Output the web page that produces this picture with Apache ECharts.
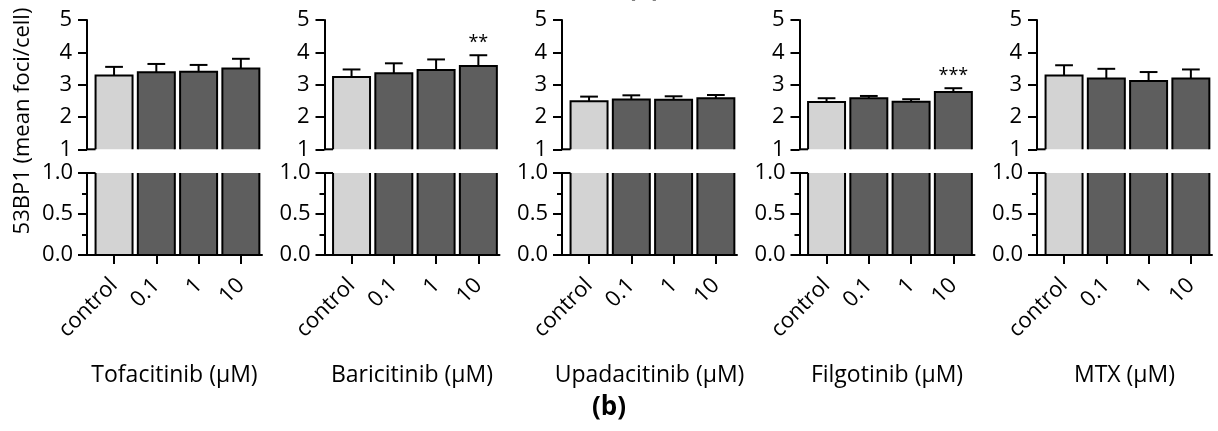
<!DOCTYPE html>
<html>
<head>
<meta charset="utf-8">
<script src="https://cdn.jsdelivr.net/npm/echarts@6/dist/echarts.min.js"></script>
<style>
html,body{margin:0;padding:0;background:#fff;}
#chart{width:1218px;height:431px;}
</style>
</head>
<body>
<div id="chart"></div>
<script>
// ---- data ----
const drugNames = ['Tofacitinib (μM)', 'Baricitinib (μM)', 'Upadacitinib (μM)', 'Filgotinib (μM)', 'MTX (μM)'];
const doseLabels = ['control', '0.1', '1', '10'];
const upperTicks = ['1', '2', '3', '4', '5'];
const lowerTicks = ['0.0', '0.5', '1.0'];
const yAxisTitle = '53BP1 (mean foci/cell)';

const tofacitinibMean = [3.28, 3.38, 3.40, 3.50];
const tofacitinibErr  = [0.27, 0.26, 0.21, 0.30];
const tofacitinibSig  = ['', '', '', ''];

const baricitinibMean = [3.24, 3.35, 3.45, 3.58];
const baricitinibErr  = [0.23, 0.31, 0.33, 0.33];
const baricitinibSig  = ['', '', '', '**'];

const upadacitinibMean = [2.49, 2.54, 2.53, 2.58];
const upadacitinibErr  = [0.14, 0.13, 0.11, 0.10];
const upadacitinibSig  = ['', '', '', ''];

const filgotinibMean = [2.46, 2.58, 2.47, 2.77];
const filgotinibErr  = [0.12, 0.07, 0.08, 0.12];
const filgotinibSig  = ['', '', '', '***'];

const mtxMean = [3.28, 3.19, 3.11, 3.19];
const mtxErr  = [0.32, 0.30, 0.28, 0.28];
const mtxSig  = ['', '', '', ''];

const panelMeans = [tofacitinibMean, baricitinibMean, upadacitinibMean, filgotinibMean, mtxMean];
const panelErrs  = [tofacitinibErr, baricitinibErr, upadacitinibErr, filgotinibErr, mtxErr];
const panelSigs  = [tofacitinibSig, baricitinibSig, upadacitinibSig, filgotinibSig, mtxSig];

// ---- layout / style ----
const FONT = '"Open Sans", "Noto Sans", sans-serif';
const X_MIN = -0.64, X_MAX = 3.5;
const BAR_W = 0.875, CAP_W = 0.42;
const PANEL_LEFT0 = 87, PANEL_STEP = 237.5, PANEL_W = 175;
const UP_TOP = 20, UP_H = 129.3, LO_TOP = 173, LO_H = 82;
const CONTROL_FILL = '#d3d3d3', DRUG_FILL = '#5e5e5e';

const chart = echarts.init(document.getElementById('chart'), null, {renderer: 'canvas'});

const grids = [], xAxes = [], yAxes = [], series = [], graphics = [];

function barRender(params, api) {
  const x = api.value(0), v = api.value(1);
  const top = api.coord([x, v]);
  const base = api.coord([x, 0]);
  const w = api.size([BAR_W, 0])[0];
  return {
    type: 'rect',
    shape: {x: top[0] - w / 2, y: top[1], width: w, height: base[1] - top[1]},
    style: {fill: x === 0 ? CONTROL_FILL : DRUG_FILL, stroke: '#000', lineWidth: 2}
  };
}

function segRender(params, api) {
  // short horizontal line from the axis to the first bar at the break edge (value 1)
  const a = api.coord([X_MIN, 1]);
  const b = api.coord([0, 1]);
  const w = api.size([BAR_W, 0])[0];
  return {type: 'line', shape: {x1: a[0], y1: a[1], x2: b[0] - w / 2, y2: a[1]},
          style: {stroke: '#000', lineWidth: 2}};
}

for (let i = 0; i < 5; i++) {
  const left = PANEL_LEFT0 + i * PANEL_STEP;
  grids.push({left: left, top: UP_TOP, width: PANEL_W, height: UP_H, outerBoundsMode: 'none'});
  grids.push({left: left, top: LO_TOP, width: PANEL_W, height: LO_H, outerBoundsMode: 'none'});
  const gu = 2 * i, gl = 2 * i + 1;

  xAxes.push({gridIndex: gu, type: 'value', min: X_MIN, max: X_MAX, show: false});
  xAxes.push({
    gridIndex: gl, type: 'value', min: X_MIN, max: X_MAX,
    axisLine: {show: true, onZero: false, lineStyle: {color: '#000', width: 2}},
    axisTick: {show: true, customValues: [0, 1, 2, 3], length: 9, lineStyle: {color: '#000', width: 2}},
    axisLabel: {show: true, customValues: [0, 1, 2, 3], rotate: 45, margin: 27,
      formatter: v => doseLabels[Math.round(v)], color: '#000', fontSize: 22, fontFamily: FONT},
    splitLine: {show: false},
    name: drugNames[i], nameLocation: 'middle', nameGap: 109,
    nameTextStyle: {color: '#000', fontSize: 23, fontFamily: FONT}
  });
  yAxes.push({
    gridIndex: gu, type: 'value', min: 1, max: 5, interval: 1,
    axisLine: {show: true, onZero: false, lineStyle: {color: '#000', width: 2}},
    axisTick: {show: true, length: 9, lineStyle: {color: '#000', width: 2}},
    axisLabel: {margin: 15, color: '#000', fontSize: 22, fontFamily: FONT,
      formatter: v => upperTicks[Math.round(v) - 1]},
    splitLine: {show: false}
  });
  yAxes.push({
    gridIndex: gl, type: 'value', min: 0, max: 1, interval: 0.5,
    axisLine: {show: true, onZero: false, lineStyle: {color: '#000', width: 2}},
    axisTick: {show: true, length: 9, lineStyle: {color: '#000', width: 2}},
    minorTick: {show: true, splitNumber: 2, length: 5, lineStyle: {color: '#000', width: 2}},
    axisLabel: {margin: 14, color: '#000', fontSize: 22, fontFamily: FONT,
      formatter: v => lowerTicks[Math.round(v * 2)]},
    splitLine: {show: false}
  });

  const means = panelMeans[i], errs = panelErrs[i], sigs = panelSigs[i];
  const barData = means.map((m, k) => [k, m]);
  const errData = means.map((m, k) => [k, m, errs[k]]);

  series.push({type: 'custom', xAxisIndex: gu, yAxisIndex: gu, clip: true, renderItem: barRender, data: barData, z: 2});
  series.push({type: 'custom', xAxisIndex: gl, yAxisIndex: gl, clip: true, renderItem: barRender, data: barData, z: 2});
  series.push({type: 'custom', xAxisIndex: gu, yAxisIndex: gu, clip: false, renderItem: segRender, data: [[0]], z: 3});
  series.push({type: 'custom', xAxisIndex: gl, yAxisIndex: gl, clip: false, renderItem: segRender, data: [[0]], z: 3});
  series.push({
    type: 'custom', xAxisIndex: gu, yAxisIndex: gu, clip: false, data: errData, z: 4,
    renderItem: (params, api) => {
      const x = api.value(0), m = api.value(1), e = api.value(2);
      const p0 = api.coord([x, m]);
      const p1 = api.coord([x, m + e]);
      const cw = api.size([CAP_W, 0])[0];
      const children = [
        {type: 'line', shape: {x1: p0[0], y1: p0[1], x2: p1[0], y2: p1[1]}, style: {stroke: '#000', lineWidth: 2}},
        {type: 'line', shape: {x1: p1[0] - cw / 2, y1: p1[1], x2: p1[0] + cw / 2, y2: p1[1]}, style: {stroke: '#000', lineWidth: 2}}
      ];
      const s = sigs[params.dataIndex];
      if (s) {
        children.push({type: 'text', x: p1[0], y: p1[1] - 12,
          style: {text: s, fill: '#000', font: '18px ' + FONT, textAlign: 'center', textVerticalAlign: 'middle'}});
      }
      return {type: 'group', children: children};
    }
  });
}

graphics.push({
  type: 'text', x: 23, y: 121, rotation: Math.PI / 2,
  style: {text: yAxisTitle, fill: '#000', font: '22px ' + FONT, textAlign: 'center', textVerticalAlign: 'middle'}
});
graphics.push({
  type: 'text', x: 609, y: 408,
  style: {text: '(b)', fill: '#000', font: 'bold 26px ' + FONT, textAlign: 'center', textVerticalAlign: 'middle'}
});
graphics.push({
  type: 'text', x: 644, y: -11,
  style: {text: '(a)', fill: '#000', font: 'bold 26px ' + FONT, textAlign: 'center', textVerticalAlign: 'middle'}
});

chart.setOption({
  animation: false,
  backgroundColor: '#fff',
  grid: grids,
  xAxis: xAxes,
  yAxis: yAxes,
  series: series,
  graphic: graphics
});
</script>
</body>
</html>
